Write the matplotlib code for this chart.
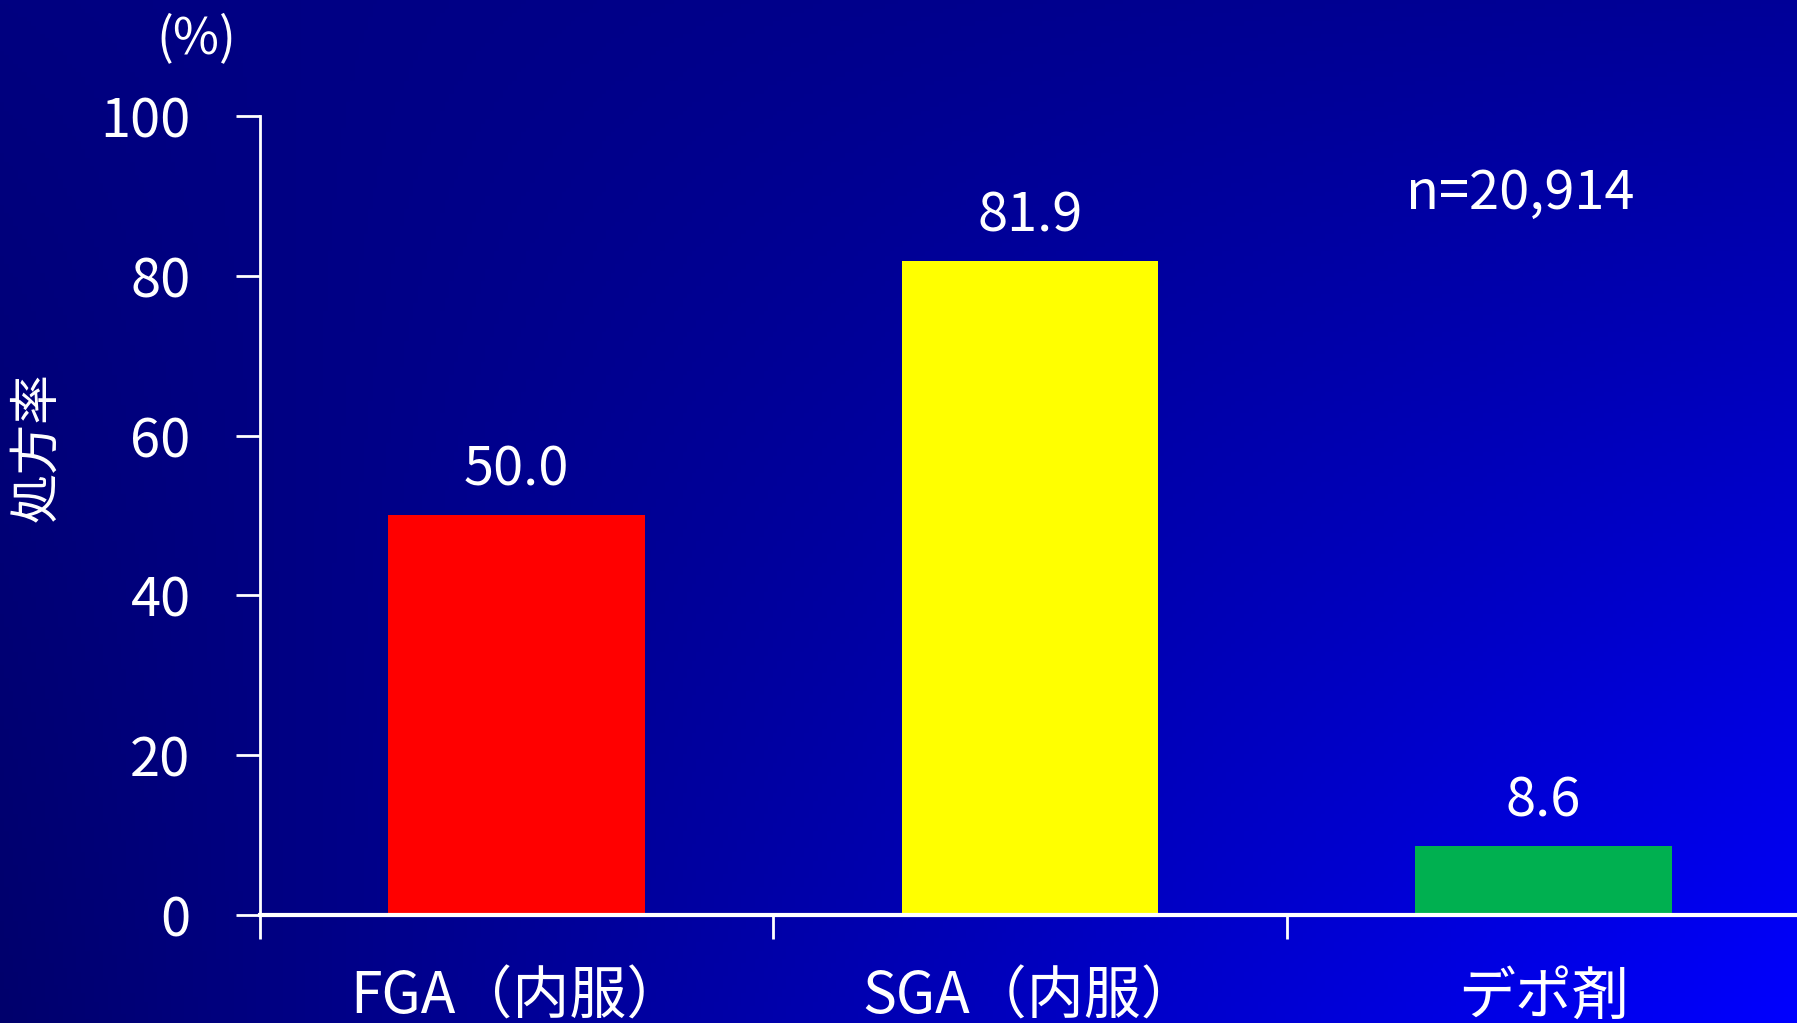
import numpy as np
import matplotlib
matplotlib.use("Agg")
import matplotlib.pyplot as plt

plt.rcParams['font.family'] = ['Noto Sans CJK JP', 'DejaVu Sans']

categories = ["FGA（内服）", "SGA（内服）", "デポ剤"]
rates = [50.0, 81.9, 8.6]
value_labels = ["50.0", "81.9", "8.6"]
bar_colors = ["#FF0000", "#FFFF00", "#00B050"]
yticks = [0, 20, 40, 60, 80, 100]

fig = plt.figure(figsize=(17.97, 10.23), dpi=100)

# background gradient (dark navy top-left -> bright blue bottom-right)
bg = fig.add_axes([0, 0, 1, 1], zorder=-10)
gx, gy = np.meshgrid(np.linspace(0, 1, 400), np.linspace(0, 1, 240))
tl, tr, bl, br = 128, 152, 108, 255
blue = (tl * (1 - gx) * (1 - gy) + tr * gx * (1 - gy)
        + bl * (1 - gx) * gy + br * gx * gy) / 255.0
img = np.zeros(gx.shape + (3,))
img[..., 2] = blue
bg.imshow(img, aspect="auto", extent=[0, 1, 0, 1], origin="upper")
bg.axis("off")

ax = fig.add_axes([0.1447, 0.1056, 0.857, 0.781])
ax.set_facecolor("none")
x = np.arange(len(categories))
ax.bar(x, rates, width=0.5, color=bar_colors, zorder=2)

for xi, v, lab in zip(x, rates, value_labels):
    ax.text(xi, v + 3.7, lab, ha="center", va="baseline", color="white", fontsize=39)

ax.set_xlim(-0.5, 2.5)
ax.set_ylim(0, 100)
ax.set_yticks(yticks)
ax.set_yticklabels([str(t) for t in yticks])
ax.set_xticks(x)
ax.set_xticklabels(categories)
ax.set_xticks([-0.5, 0.5, 1.5], minor=True)

ax.tick_params(axis="y", colors="white", labelsize=39, length=17, width=2, pad=33)
ax.tick_params(axis="x", which="major", colors="white", labelsize=41, length=0, pad=38)
ax.tick_params(axis="x", which="minor", colors="white", length=17, width=2)

for s in ["top", "right"]:
    ax.spines[s].set_visible(False)
ax.spines["left"].set_color("white")
ax.spines["left"].set_linewidth(2)
ax.spines["bottom"].set_color("white")
ax.spines["bottom"].set_linewidth(3)
ax.spines["bottom"].set_zorder(3)

ax.text(1.955, 88.4, "n=20,914", ha="center", va="baseline", color="white", fontsize=39)

fig.text(0.021, 0.563, "処方率", rotation=90, ha="center", va="center",
         color="white", fontsize=36)
fig.text(0.109, 0.962, "(%)", ha="center", va="center", color="white", fontsize=36)

fig.savefig("out.png", dpi=100)
